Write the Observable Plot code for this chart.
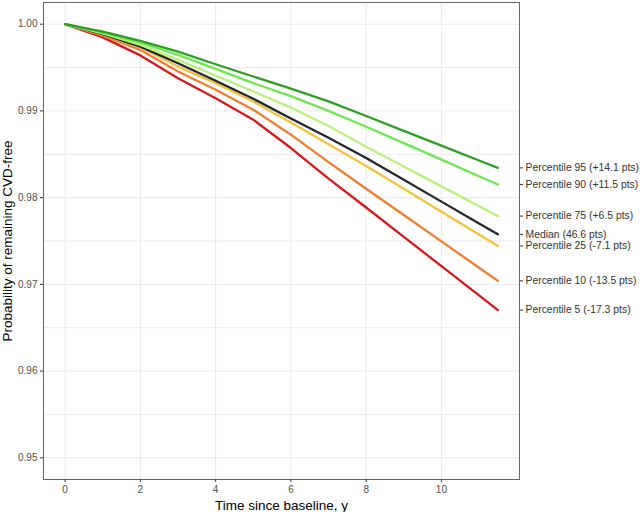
<!DOCTYPE html>
<html>
<head>
<meta charset="utf-8">
<script src="https://cdn.jsdelivr.net/npm/d3@7"></script>
<script src="https://cdn.jsdelivr.net/npm/@observablehq/plot@0.6"></script>
<style>
  body { margin: 0; background: #fff; }
  #chart svg { font-family: "Liberation Sans", Arial, sans-serif; }
</style>
</head>
<body>
<div id="chart"></div>
<script>
// Years of follow-up
const years = [0, 1, 2, 3, 4, 5, 6, 7, 8, 9, 10, 11, 11.5];

// Series (probability of remaining CVD-free)
const p95 = [1.0, 0.99914, 0.99807, 0.99684, 0.99538, 0.99397, 0.99258, 0.99110, 0.98941, 0.98770, 0.98599, 0.98428, 0.98343];
const p90 = [1.0, 0.99905, 0.99787, 0.99646, 0.99485, 0.99320, 0.99170, 0.99000, 0.98818, 0.98628, 0.98438, 0.98247, 0.98152];
const p75 = [1.0, 0.99895, 0.99761, 0.99589, 0.99408, 0.99224, 0.99040, 0.98825, 0.98586, 0.98358, 0.98130, 0.97901, 0.97787];
const pMed = [1.0, 0.99885, 0.99741, 0.99550, 0.99347, 0.99140, 0.98912, 0.98690, 0.98457, 0.98205, 0.97954, 0.97703, 0.97577];
const p25 = [1.0, 0.99880, 0.99733, 0.99511, 0.99320, 0.99109, 0.98865, 0.98615, 0.98366, 0.98102, 0.97838, 0.97575, 0.97443];
const p10 = [1.0, 0.99868, 0.99703, 0.99454, 0.99244, 0.99014, 0.98726, 0.98410, 0.98103, 0.97800, 0.97496, 0.97192, 0.97040];
const p5 = [1.0, 0.99848, 0.99640, 0.99377, 0.99147, 0.98899, 0.98572, 0.98220, 0.97886, 0.97548, 0.97210, 0.96872, 0.96703];

const seriesNames = ["Percentile 5 (-17.3 pts)", "Percentile 10 (-13.5 pts)", "Percentile 25 (-7.1 pts)", "Median (46.6 pts)", "Percentile 75 (+6.5 pts)", "Percentile 90 (+11.5 pts)", "Percentile 95 (+14.1 pts)"];
const seriesValues = [p5, p10, p25, pMed, p75, p90, p95];
const seriesColors = ["#d7191c", "#f07d30", "#f5c23c", "#23272e", "#b8f27a", "#6ee84e", "#2e9e24"];

const xTicks = [0, 2, 4, 6, 8, 10];
const yTicks = [0.95, 0.96, 0.97, 0.98, 0.99, 1.00];
const yGrid = [0.95, 0.955, 0.96, 0.965, 0.97, 0.975, 0.98, 0.985, 0.99, 0.995, 1.0];

// Build long table
const rows = [];
seriesNames.forEach((name, s) => {
  years.forEach((t, i) => rows.push({ series: name, t, p: seriesValues[s][i] }));
});

const endVals = seriesValues.map(v => v[v.length - 1]);
const endLabel = new Map(endVals.map((v, i) => [v, seriesNames[i]]));

const chart = Plot.plot({
  width: 642,
  height: 512,
  marginLeft: 43,
  marginRight: 123,
  marginTop: 2,
  marginBottom: 33,
  style: { fontFamily: "Liberation Sans, Arial, sans-serif", background: "#fff" },
  x: { domain: [-0.575, 12.075] },
  y: { domain: [0.9475, 1.0025] },
  color: { domain: seriesNames, range: seriesColors },
  marks: [
    Plot.gridY(yGrid, { stroke: "#ebebeb", strokeOpacity: 1, strokeWidth: 1 }),
    Plot.gridX(xTicks, { stroke: "#ebebeb", strokeOpacity: 1, strokeWidth: 1 }),
    Plot.line(rows, { x: "t", y: "p", z: "series", stroke: "series", strokeWidth: 2.3, curve: "linear" }),
    Plot.frame({ stroke: "#666", strokeWidth: 1 }),
    Plot.axisY(yTicks, {
      anchor: "left", tickFormat: d3.format(".2f"), tickSize: 3, tickPadding: 3,
      fontSize: 10, color: "#4d4d4d", stroke: "#333",
      label: "Probability of remaining CVD-free", labelAnchor: "center", labelArrow: "none", labelOffset: 41
    }),
    Plot.axisX(xTicks, {
      anchor: "bottom", tickSize: 3, tickPadding: 3, fontSize: 10, color: "#4d4d4d", stroke: "#333",
      label: "Time since baseline, y", labelAnchor: "center", labelArrow: "none", labelOffset: 30
    }),
    Plot.axisY(endVals, {
      anchor: "right", tickFormat: d => endLabel.get(d), tickSize: 3, tickPadding: 3,
      fontSize: 10.4, color: "#333", stroke: "#333", label: null
    })
  ]
});

// Style axis titles larger / darker
chart.querySelectorAll("[aria-label='y-axis label'] text, [aria-label='x-axis label'] text").forEach(t => {
  t.setAttribute("font-size", "13.5");
  t.setAttribute("fill", "#000");
});

document.getElementById("chart").appendChild(chart);
</script>
</body>
</html>
